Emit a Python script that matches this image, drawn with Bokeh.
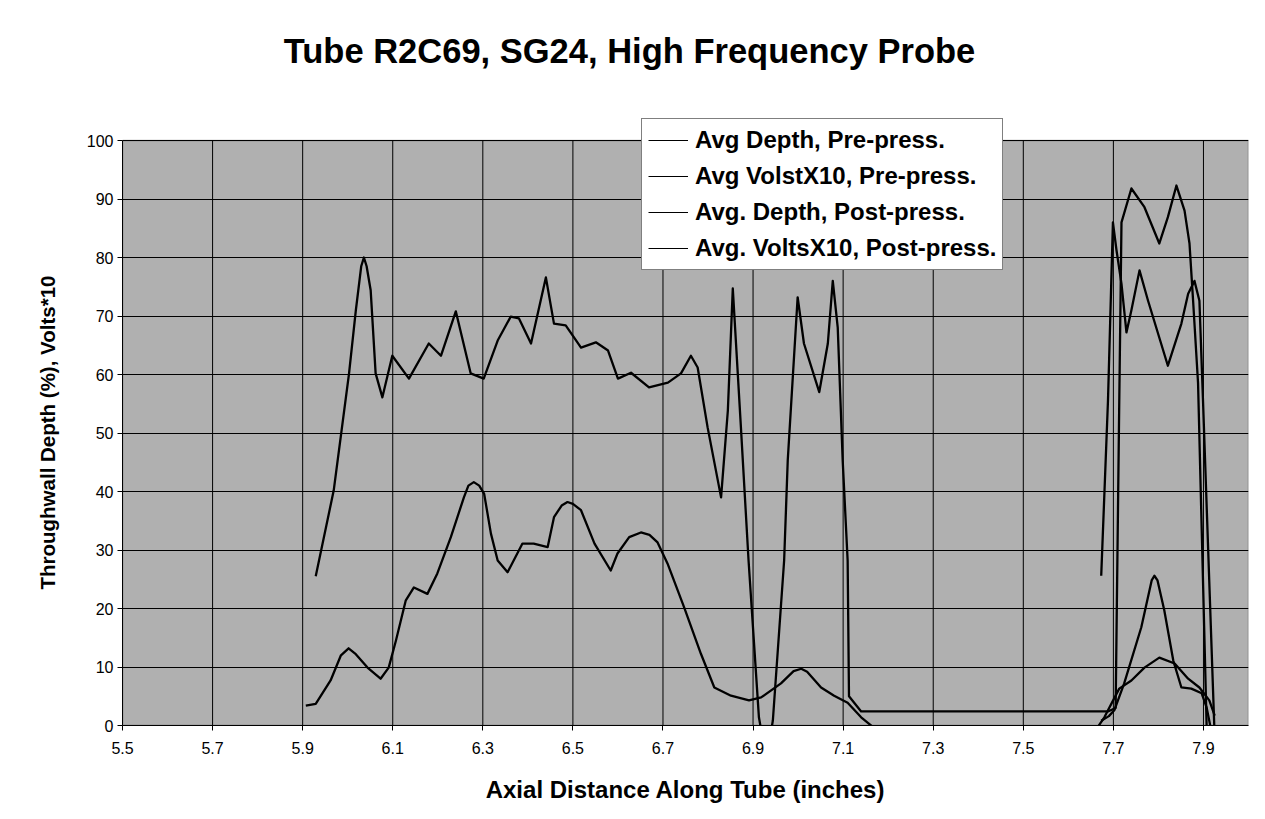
from bokeh.plotting import figure
from bokeh.models import (Range1d, FixedTicker, Legend, LegendItem, BoxAnnotation,
                          Label, Title)
from bokeh.embed import file_html
from bokeh.resources import INLINE

# ---------------- data ----------------
depth_pre_x = [5.907, 5.929, 5.962, 5.985, 6.002, 6.018, 6.044, 6.073, 6.091, 6.107,
               6.129, 6.147, 6.177, 6.199, 6.229, 6.258, 6.268, 6.280, 6.292, 6.303,
               6.318, 6.333, 6.355, 6.388, 6.413, 6.444, 6.458, 6.475, 6.488, 6.500,
               6.518, 6.548, 6.584, 6.599, 6.625, 6.651, 6.670, 6.688, 6.710, 6.747,
               6.784, 6.814, 6.851, 6.891, 6.918, 6.962, 6.990, 7.007, 7.020, 7.051,
               7.080, 7.110, 7.140, 7.170, 7.200, 7.650, 7.680, 7.713, 7.740, 7.769,
               7.802, 7.836, 7.866, 7.891, 7.913, 7.925]
depth_pre_y = [3.4, 3.7, 7.7, 12.0, 13.2, 12.2, 9.9, 8.0, 9.9, 14.5,
               21.4, 23.6, 22.5, 26.0, 32.2, 39.0, 41.0, 41.6, 41.0, 39.6,
               32.8, 28.2, 26.2, 31.1, 31.1, 30.5, 35.6, 37.6, 38.2, 37.9,
               36.8, 31.1, 26.5, 29.4, 32.2, 33.0, 32.6, 31.3, 27.7, 20.2,
               12.3, 6.5, 5.1, 4.3, 4.8, 7.2, 9.3, 9.7, 9.2, 6.5,
               5.1, 3.9, 1.4, -0.5, -2.0, -2.0, 1.4, 6.3, 7.7, 9.9,
               11.6, 10.6, 8.0, 6.5, 4.3, 1.7]

volts_pre_x = [5.929, 5.969, 6.003, 6.018, 6.030, 6.036, 6.042, 6.051, 6.062, 6.077,
               6.099, 6.136, 6.180, 6.207, 6.240, 6.273, 6.302, 6.333, 6.362, 6.380,
               6.407, 6.440, 6.458, 6.484, 6.518, 6.551, 6.578, 6.600, 6.629, 6.669,
               6.711, 6.740, 6.762, 6.777, 6.799, 6.829, 6.844, 6.855, 6.873, 6.890,
               6.913, 6.930, 6.944, 6.969, 6.977, 6.999, 7.013, 7.047, 7.066, 7.077,
               7.088, 7.099, 7.110, 7.113, 7.140, 7.688, 7.705, 7.713, 7.718, 7.740,
               7.769, 7.802, 7.821, 7.840, 7.858, 7.869, 7.877, 7.888, 7.907]
volts_pre_y = [25.5, 40.2, 60.2, 70.9, 78.5, 80.0, 78.5, 74.4, 60.2, 56.1,
               63.2, 59.3, 65.3, 63.2, 70.8, 60.2, 59.3, 65.8, 69.9, 69.6,
               65.3, 76.6, 68.7, 68.4, 64.6, 65.5, 64.1, 59.3, 60.3, 57.8,
               58.6, 60.2, 63.2, 61.2, 51.0, 39.0, 53.8, 74.7, 51.0, 28.2,
               1.4, -6.0, 0.9, 28.2, 45.3, 73.2, 65.3, 57.0, 65.3, 76.0,
               68.0, 45.3, 28.2, 5.0, 2.4, 2.4, 3.0, 55.0, 86.0, 91.8,
               88.6, 82.4, 86.9, 92.3, 88.0, 82.4, 72.6, 58.5, 0.0]

depth_post_x = [7.673, 7.690, 7.702, 7.724, 7.762, 7.785, 7.791, 7.798, 7.813, 7.833,
                7.851, 7.873, 7.896, 7.907, 7.915]
depth_post_y = [0.8, 1.6, 2.6, 7.2, 16.8, 24.8, 25.6, 24.8, 19.7, 11.1,
                6.5, 6.3, 5.5, 3.1, 0.0]

volts_post_x = [7.673, 7.688, 7.699, 7.707, 7.718, 7.729, 7.740, 7.758, 7.777, 7.821,
                7.851, 7.866, 7.880, 7.891, 7.899, 7.924]
volts_post_y = [25.6, 55.5, 86.0, 81.2, 75.5, 67.2, 71.0, 77.8, 72.6, 61.5,
                68.7, 73.8, 76.0, 72.6, 55.5, 0.0]

series_names = ["Avg Depth, Pre-press.", "Avg VolstX10, Pre-press.",
                "Avg. Depth, Post-press.", "Avg. VoltsX10, Post-press."]

x_ticks = [round(5.5 + 0.2 * i, 1) for i in range(13)]
y_ticks = [0, 10, 20, 30, 40, 50, 60, 70, 80, 90, 100]
x_min, x_max = 5.5, 8.0
y_min, y_max = 0, 100

TITLE = "Tube R2C69, SG24, High Frequency Probe"
X_LABEL = "Axial Distance Along Tube (inches)"
Y_LABEL = "Throughwall Depth (%), Volts*10"

FONT = "Liberation Sans"

# ---------------- layout (pixels) ----------------
W, H = 1263, 817
FRAME_LEFT, FRAME_RIGHT = 122, 1248      # x = 5.5 .. 8.0
FRAME_BOTTOM, PLOT_TOP = 725, 140        # y = 0 .. 100
px_per_y = (FRAME_BOTTOM - PLOT_TOP) / (y_max - y_min)
px_per_x = (FRAME_RIGHT - FRAME_LEFT) / (x_max - x_min)
# the frame runs up to the top of the canvas, so the title and the legend
# (which sticks out above the grey area) can sit in it without clipping
y_top = y_min + FRAME_BOTTOM / px_per_y

p = figure(width=W, height=H, output_backend="svg", toolbar_location=None,
           title_location=None,
           x_range=Range1d(x_min, x_max), y_range=Range1d(y_min, y_top),
           min_border_left=FRAME_LEFT, min_border_right=W - FRAME_RIGHT,
           min_border_top=0, min_border_bottom=H - FRAME_BOTTOM,
           background_fill_color="white", border_fill_color="white",
           outline_line_color=None)

# grey plot area
p.add_layout(BoxAnnotation(left=x_min, right=x_max, bottom=y_min, top=y_max,
                           fill_color="#b0b0b0", fill_alpha=1.0,
                           line_color="black", line_width=1.5, level="image"))

# title
p.add_layout(Label(x=x_min + (629 - FRAME_LEFT) / px_per_x,
                   y=y_min + (FRAME_BOTTOM - 50) / px_per_y,
                   text=TITLE, text_align="center", text_baseline="middle",
                   text_font=FONT, text_font_style="bold",
                   text_font_size="34.5px", text_color="black"))

# axes
p.xaxis.ticker = FixedTicker(ticks=x_ticks)
p.xaxis.major_label_overrides = {t: f"{t:.1f}" for t in x_ticks}
p.yaxis.ticker = FixedTicker(ticks=y_ticks)
p.yaxis.bounds = (y_min, y_max)
for ax in (p.xaxis, p.yaxis):
    ax.axis_line_color = "black"
    ax.axis_line_width = 1
    ax.major_tick_line_color = "black"
    ax.major_tick_out = 5
    ax.major_tick_in = 0
    ax.minor_tick_line_color = None
    ax.major_label_text_font = FONT
    ax.major_label_text_font_size = "16px"
    ax.major_label_text_color = "black"
    ax.axis_label_text_font = FONT
    ax.axis_label_text_font_style = "bold"
    ax.axis_label_text_color = "black"

p.xaxis.axis_label = X_LABEL
p.xaxis.axis_label_text_font_size = "24px"
p.xaxis.major_label_standoff = 11
p.xaxis.axis_label_standoff = 19

p.yaxis.major_label_standoff = 4

# y-axis title: centred on the 0..100 plot area (not on the taller frame)
p.add_layout(Title(text=Y_LABEL, align="left", offset=136, vertical_align="bottom",
                   standoff=50, text_font=FONT, text_font_style="bold",
                   text_font_size="20.5px", text_color="black"), "left")

# grid: horizontal lines from the axis grid, vertical ones only inside 0..100
p.xgrid.grid_line_color = None
p.ygrid.grid_line_color = "black"
p.ygrid.grid_line_width = 1
p.segment(x0=x_ticks, y0=[y_min] * len(x_ticks), x1=x_ticks, y1=[y_max] * len(x_ticks),
          line_color="black", line_width=1)

# data lines
series = [(depth_pre_x, depth_pre_y), (volts_pre_x, volts_pre_y),
          (depth_post_x, depth_post_y), (volts_post_x, volts_post_y)]
for xs, ys in series:
    p.line(xs, ys, line_color="black", line_width=2.3, line_join="round")

# legend (thin sample lines, like the reference); the sample renderers lie
# outside the visible range so only their legend glyphs show
items = []
for name in series_names:
    r = p.line([5.0, 5.1], [-50, -50], line_color="black", line_width=1)
    items.append(LegendItem(label=name, renderers=[r]))

legend = Legend(items=items, location=(641 - FRAME_LEFT, FRAME_BOTTOM - 270),
                orientation="vertical",
                label_text_font=FONT, label_text_font_style="bold",
                label_text_font_size="24px", label_text_color="black",
                glyph_width=40, glyph_height=30, label_height=30,
                label_standoff=7, padding=6, spacing=6, margin=0,
                border_line_color="black", border_line_width=1,
                background_fill_color="white", background_fill_alpha=1.0)
p.add_layout(legend)

open("out.html", "w").write(file_html(p, INLINE))
